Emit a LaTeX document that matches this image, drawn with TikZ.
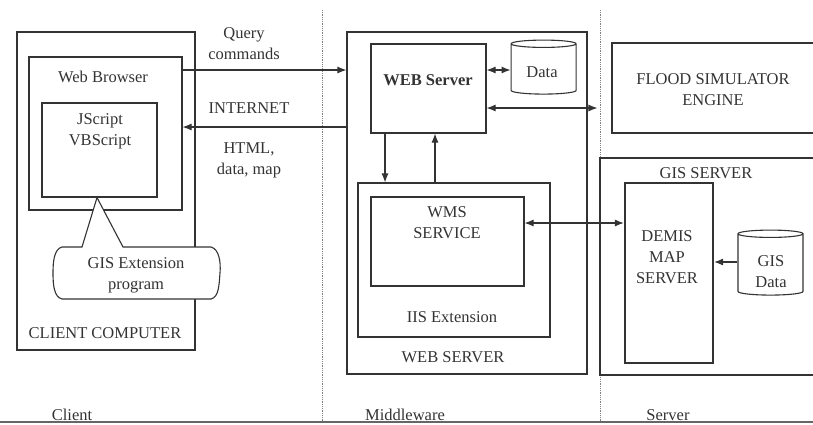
\documentclass[tikz,border=0pt]{standalone}
\usepackage{fontspec}
\setmainfont{Liberation Serif}
\usetikzlibrary{shapes,arrows.meta,positioning,calc}
\tikzset{
box/.style  = {draw, rectangle, line width=1.1pt},
lbl/.style  = {align=center, inner sep=0pt},
db/.style   = {draw, cylinder, shape border rotate=90, aspect=1.1, line width=1.1pt},
sep/.style  = {densely dotted, black!50, line width=0.8pt},
link/.style = {->, line width=1.1pt}
}

\begin{document}
\begin{tikzpicture}[x=1pt, y=-1pt, >={Latex[length=9pt,width=7pt]}, font=\fontsize{16.5}{21}\selectfont, color=black!80]
  \useasboundingbox (0,0) rectangle (813,424);

  \draw [sep] (322,10) -- (322,421);
  \draw [sep] (600,10) -- (600,421);

  \node [box, minimum width=178pt, minimum height=318pt] (client)   at (106,191)   {};
  \node [box, minimum width=153pt, minimum height=153pt] (browser)  at (105.5,133.5) {};
  \node [box, minimum width=115pt, minimum height=94pt]  (jscript)  at (99.5,150)  {};
  \node [lbl] (browserlbl) at (103,77)  {Web Browser};
  \node [lbl] (jscriptlbl) at (100,131) {JScript\\VBScript};
  \node [lbl] (clientlbl)  at (105,333) {CLIENT COMPUTER};

  \coordinate (tip) at (jscript.south -| 97,0);
  \draw [box, fill=white] (tip) -- (123,247) -- (211,247)
        .. controls (219,249) and (221,262) .. (220,273)
        .. controls (219,285) and (219,297) .. (211,299) -- (62,299)
        .. controls (54,297) and (53,285) .. (53,273)
        .. controls (53,262) and (54,249) .. (62,247) -- (82,247) -- cycle;
  \node [lbl] (gisext) at (136,275) {GIS Extension\\program};

  \node [box, minimum width=240pt, minimum height=342pt] (mwbox)  at (467,203)    {};
  \node [box, minimum width=115pt, minimum height=89pt]  (websrv) at (428.5,88.5) {};
  \node [db, minimum width=65pt, minimum height=54pt, right=24pt of websrv.east, anchor=west, yshift=18.5pt] (data) {};
  \node [box, minimum width=192pt, minimum height=154pt] (iis)    at (454,260)    {};
  \node [box, minimum width=153pt, minimum height=89pt]  (wms)    at (447.5,241.5) {};
  \node [lbl, font=\fontsize{16.5}{21}\selectfont\bfseries] (websrvlbl) at (428,80) {WEB Server};
  \node [lbl] (datalbl)  at (542,72)  {Data};
  \node [lbl] (wmslbl)   at (447,223) {WMS\\SERVICE};
  \node [lbl] (iislbl)   at (452,317) {IIS Extension};
  \node [lbl] (mwlbl)    at (453,357) {WEB SERVER};

  \node [box, minimum width=206pt, minimum height=90pt]  (flood)     at (715,88)    {};
  \node [box, minimum width=218pt, minimum height=217pt] (gisserver) at (709,266.5) {};
  \node [box, line width=2.2pt, minimum width=88pt, minimum height=180pt] (demis) at (669,273) {};
  \node [db, minimum width=65pt, minimum height=65pt]    (gisdata)   at (770.5,265.5) {};
  \node [lbl] (floodlbl)  at (713,90)  {FLOOD SIMULATOR\\ENGINE};
  \node [lbl] (gislbl)    at (706,173) {GIS SERVER};
  \node [lbl] (demislbl)  at (667,257) {DEMIS\\MAP\\SERVER};
  \node [lbl] (gisdatalbl) at (771,272) {GIS\\Data};

  \draw [link] (browser.east |- 0,70) -- (mwbox.west |- 0,70);
  \draw [link] (mwbox.west |- 0,127) -- (browser.east |- 0,127);
  \node [lbl] (qcmd) at (244,44)  {Query\\commands};
  \node [lbl] (inet) at (249,108) {INTERNET};
  \node [lbl] (html) at (249,160) {HTML,\\data, map};

  \draw [link, <->] (websrv.east |- 0,70) -- (data.west |- 0,70);
  \draw [link, <->, shorten >=14pt] (websrv.east |- 0,108) -- (flood.west |- 0,108);
  \draw [link] (websrv.south -| 385,0) -- (iis.north -| 385,0);
  \draw [link] (iis.north -| 435,0) -- (websrv.south -| 435,0);
  \draw [link, <->] (wms.east |- 0,223) -- (demis.west |- 0,223);
  \draw [link] (gisdata.west |- 0,262) -- (demis.east |- 0,262);

  \node [lbl] (clientcol) at (72,415)  {Client};
  \node [lbl] (midcol)    at (405,415) {Middleware};
  \node [lbl] (servercol) at (668,415) {Server};
  \draw [line width=1.6pt, black!60] (0,422) -- (813,422);
\end{tikzpicture}
\end{document}
